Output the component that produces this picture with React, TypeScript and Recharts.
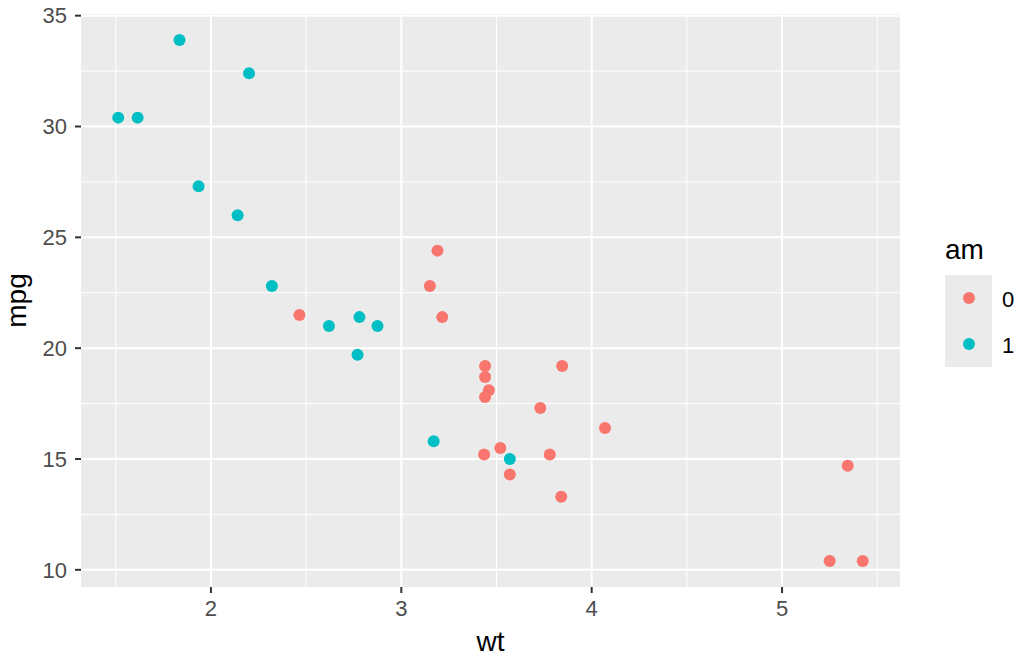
import React from 'react';
import { ScatterChart, Scatter, XAxis, YAxis, CartesianGrid, ReferenceLine } from 'recharts';

// mtcars: wt, mpg, am
const wt = [2.62, 2.875, 2.32, 3.215, 3.44, 3.46, 3.57, 3.19, 3.15, 3.44, 3.44, 4.07, 3.73, 3.78, 5.25, 5.424,
  5.345, 2.2, 1.615, 1.835, 2.465, 3.52, 3.435, 3.84, 3.845, 1.935, 2.14, 1.513, 3.17, 2.77, 3.57, 2.78];
const mpg = [21.0, 21.0, 22.8, 21.4, 18.7, 18.1, 14.3, 24.4, 22.8, 19.2, 17.8, 16.4, 17.3, 15.2, 10.4, 10.4,
  14.7, 32.4, 30.4, 33.9, 21.5, 15.5, 15.2, 13.3, 19.2, 27.3, 26.0, 30.4, 15.8, 19.7, 15.0, 21.4];
const am = [1, 1, 1, 0, 0, 0, 0, 0, 0, 0, 0, 0, 0, 0, 0, 0, 0, 1, 1, 1, 0, 0, 0, 0, 0, 1, 1, 1, 1, 1, 1, 1];

const amLevels = ['0', '1'];
const amColors = ['#F8766D', '#00BFC4'];

const xTicks = [2, 3, 4, 5];
const xMinor = [1.5, 2.5, 3.5, 4.5, 5.5];
const yTicks = [10, 15, 20, 25, 30, 35];
const yMinor = [12.5, 17.5, 22.5, 27.5, 32.5];

const FONT = '"Liberation Sans", Arial, Helvetica, sans-serif';

// ggplot default: 5% expansion on each side
function expand(vals: number[]): [number, number] {
  const lo = Math.min(...vals);
  const hi = Math.max(...vals);
  const pad = (hi - lo) * 0.05;
  return [lo - pad, hi + pad];
}

const series = amLevels.map(lvl =>
  wt.map((w, i) => ({ wt: w, mpg: mpg[i], am: am[i] })).filter(d => String(d.am) === lvl)
);

const dot = (color: string) => (p: any) => <circle cx={p.cx} cy={p.cy} r={6} fill={color} />;

function LegendBox() {
  return (
    <div style={{ position: 'absolute', left: 945, top: 230, fontFamily: FONT }}>
      <div style={{ fontSize: 28, color: '#000', height: 45, lineHeight: '40px' }}>am</div>
      {amLevels.map((lvl, k) => (
        <div key={lvl} style={{ display: 'flex', alignItems: 'center', height: 46 }}>
          <div style={{ width: 47, height: 46, background: '#EBEBEB', display: 'flex', alignItems: 'center', justifyContent: 'center' }}>
            <div style={{ width: 12, height: 12, borderRadius: 6, background: amColors[k] }} />
          </div>
          <div style={{ marginLeft: 10, marginTop: 3, fontSize: 22, color: '#000' }}>{lvl}</div>
        </div>
      ))}
    </div>
  );
}

export default function App() {
  return (
    <div style={{ position: 'absolute', left: 0, top: 0, width: 1024, height: 659, background: '#fff' }}>
      <ScatterChart width={1024} height={659} margin={{ top: 14, right: 124, left: 0, bottom: 0 }}>
        <CartesianGrid horizontal={false} vertical={false} fill="#EBEBEB" />
        {xMinor.map(v => <ReferenceLine key={'xm' + v} x={v} stroke="#fff" strokeWidth={1} />)}
        {yMinor.map(v => <ReferenceLine key={'ym' + v} y={v} stroke="#fff" strokeWidth={1} />)}
        {xTicks.map(v => <ReferenceLine key={'xM' + v} x={v} stroke="#fff" strokeWidth={2} />)}
        {yTicks.map(v => <ReferenceLine key={'yM' + v} y={v} stroke="#fff" strokeWidth={2} />)}
        <XAxis
          type="number"
          dataKey="wt"
          domain={expand(wt)}
          allowDataOverflow
          ticks={xTicks}
          height={72}
          axisLine={false}
          tickSize={6}
          tickMargin={7}
          tickLine={{ stroke: '#333333', strokeWidth: 2 }}
          tick={{ fill: '#4D4D4D', fontSize: 22, fontFamily: FONT }}
          label={{ value: 'wt', position: 'insideBottom', offset: 8, fill: '#000', fontSize: 28, fontFamily: FONT }}
        />
        <YAxis
          type="number"
          dataKey="mpg"
          domain={expand(mpg)}
          allowDataOverflow
          ticks={yTicks}
          width={81}
          axisLine={false}
          tickSize={6}
          tickMargin={8}
          tickLine={{ stroke: '#333333', strokeWidth: 2 }}
          tick={{ fill: '#4D4D4D', fontSize: 22, fontFamily: FONT }}
          label={(props: any) => {
            const vb = props.viewBox;
            const cy = vb.y + vb.height / 2;
            return (
              <text x={26} y={cy} transform={`rotate(-90 26 ${cy})`} textAnchor="middle" fontSize={28} fontFamily={FONT} fill="#000">
                mpg
              </text>
            );
          }}
        />
        {series.map((s, k) => (
          <Scatter key={amLevels[k]} name={amLevels[k]} data={s} fill={amColors[k]} shape={dot(amColors[k])} isAnimationActive={false} />
        ))}
      </ScatterChart>
      <LegendBox />
    </div>
  );
}
